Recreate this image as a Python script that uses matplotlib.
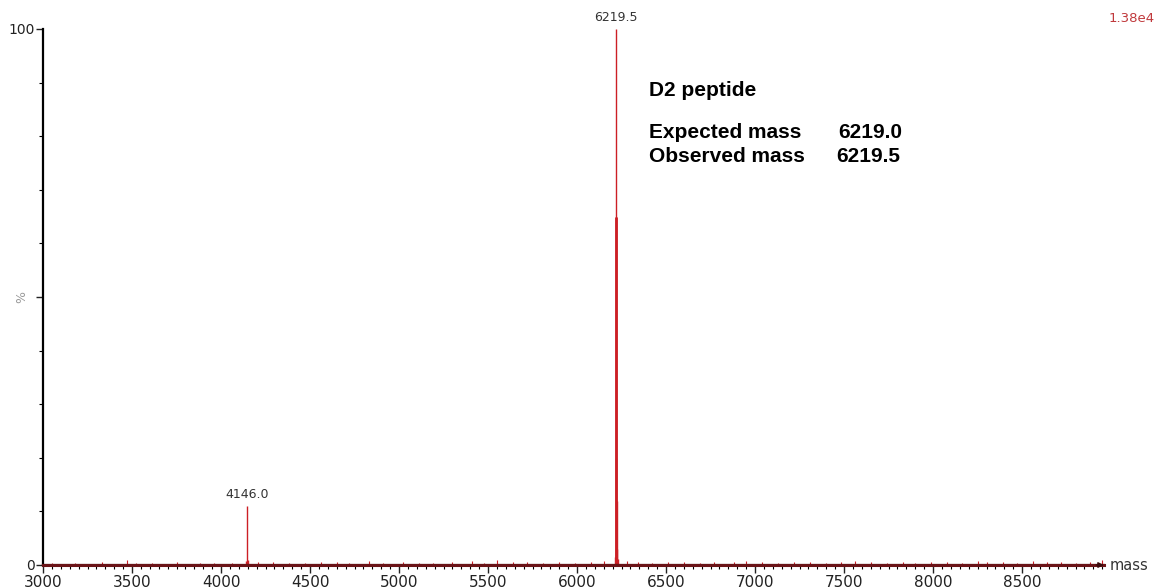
import matplotlib.pyplot as plt
import numpy as np

plt.rcParams["font.family"] = ["DejaVu Sans"]

# main peaks (m/z, relative intensity %)
peak_mass = [4142.0, 4146.0, 4149.0, 6212.0, 6216.0, 6218.0, 6219.5, 6221.0, 6223.0, 6227.0, 6232.0]
peak_int = [0.8, 11.0, 1.0, 1.5, 3.0, 20.0, 100.0, 65.0, 12.0, 3.0, 1.2]

# baseline noise picked off the trace
noise_mass = [3050, 3180, 3330, 3470, 3520, 3610, 3750, 3880, 3960, 4060, 4210, 4290,
              4380, 4470, 4560, 4650, 4720, 4830, 4910, 5020, 5110, 5190, 5300, 5410,
              5480, 5550, 5640, 5720, 5810, 5900, 5990, 6080, 6150, 6280, 6340, 6420,
              6510, 6600, 6690, 6770, 6880, 6950, 7040, 7130, 7220, 7310, 7400, 7480,
              7560, 7650, 7740, 7830, 7900, 7990, 8080, 8160, 8250, 8300, 8390, 8470,
              8560, 8640, 8720, 8800, 8880, 8950]
noise_int = [0.4, 0.3, 0.5, 0.9, 0.4, 0.3, 0.5, 0.4, 0.3, 0.4, 0.6, 0.5,
             0.4, 0.3, 0.5, 0.6, 0.4, 0.7, 0.4, 0.5, 0.3, 0.4, 0.5, 0.8,
             0.4, 0.9, 0.5, 0.6, 0.4, 0.5, 0.4, 0.6, 0.8, 0.7, 0.5, 0.4,
             0.5, 0.6, 0.4, 0.5, 0.6, 0.7, 0.5, 0.4, 0.6, 0.5, 0.4, 0.5,
             0.8, 0.5, 0.4, 0.5, 0.4, 0.6, 0.5, 0.4, 0.8, 0.5, 0.6, 0.4,
             0.7, 0.5, 0.6, 0.4, 0.5, 1.0]

labels = [(4146.0, 11.0, "4146.0"), (6219.5, 100.0, "6219.5")]

red = "#cc1f25"

fig = plt.figure(figsize=(11.57, 5.88), dpi=100)
ax = fig.add_axes([43 / 1157, 1 - 565 / 588, (1104 - 43) / 1157, (565 - 29) / 588])

ax.vlines(noise_mass, 0, noise_int, color=red, lw=0.8)
ax.vlines(peak_mass, 0, peak_int, color=red, lw=1.0)
ax.vlines([6221.0], 0, [65.0], color=red, lw=2.0)
ax.plot([3000, 8960], [0, 0], color="#6a1418", lw=2.2, clip_on=False, zorder=3)

for x, y, s in labels:
    ax.text(x, y + 1.0, s, ha="center", va="bottom", fontsize=9, color="#333333")

ax.set_xlim(3000, 8960)
ax.set_ylim(0, 100)

for side in ["top", "right"]:
    ax.spines[side].set_visible(False)
ax.spines["left"].set_linewidth(1.6)
ax.spines["bottom"].set_linewidth(1.6)
ax.spines["bottom"].set_color("#3a0a0c")

ax.set_xticks(np.arange(3000, 9000, 500))
ax.set_xticks(np.arange(3000, 8960, 50), minor=True)
ax.tick_params(axis="x", which="major", length=6, width=1, labelsize=11, colors="#222222", pad=1)
ax.tick_params(axis="x", which="minor", length=3, width=0.8)

ax.set_yticks([0, 50, 100])
ax.set_yticklabels(["0", "", "100"])
ax.set_yticks(np.arange(0, 101, 10), minor=True)
ax.tick_params(axis="y", which="major", length=5, width=1, labelsize=10, colors="#222222", pad=1)
ax.tick_params(axis="y", which="minor", length=3, width=0.8)

ax.text(-0.02, 0.5, "%", transform=ax.transAxes, rotation=90, ha="center", va="center",
        fontsize=9, color="#999999")
ax.text(1.005, 0.0, "mass", transform=ax.transAxes, ha="left", va="center",
        fontsize=10.5, color="#333333")
fig.text(1155 / 1157, 1 - 18 / 588, "1.38e4", ha="right", va="center", fontsize=9.5, color="#c0393c")
ax.annotate("", xy=(8975, 0), xytext=(8900, 0),
            arrowprops=dict(arrowstyle="-|>", color="#3a0a0c", lw=1, mutation_scale=8),
            annotation_clip=False)

bold = dict(fontsize=15, fontweight="bold", va="center", family="Liberation Sans")
fig.text(649 / 1157, 1 - 90 / 588, "D2 peptide", **bold)
fig.text(649 / 1157, 1 - 133 / 588, "Expected mass", **bold)
fig.text(838 / 1157, 1 - 133 / 588, "6219.0", **bold)
fig.text(649 / 1157, 1 - 157 / 588, "Observed mass", **bold)
fig.text(836 / 1157, 1 - 157 / 588, "6219.5", **bold)

fig.savefig("out.png", dpi=100)
